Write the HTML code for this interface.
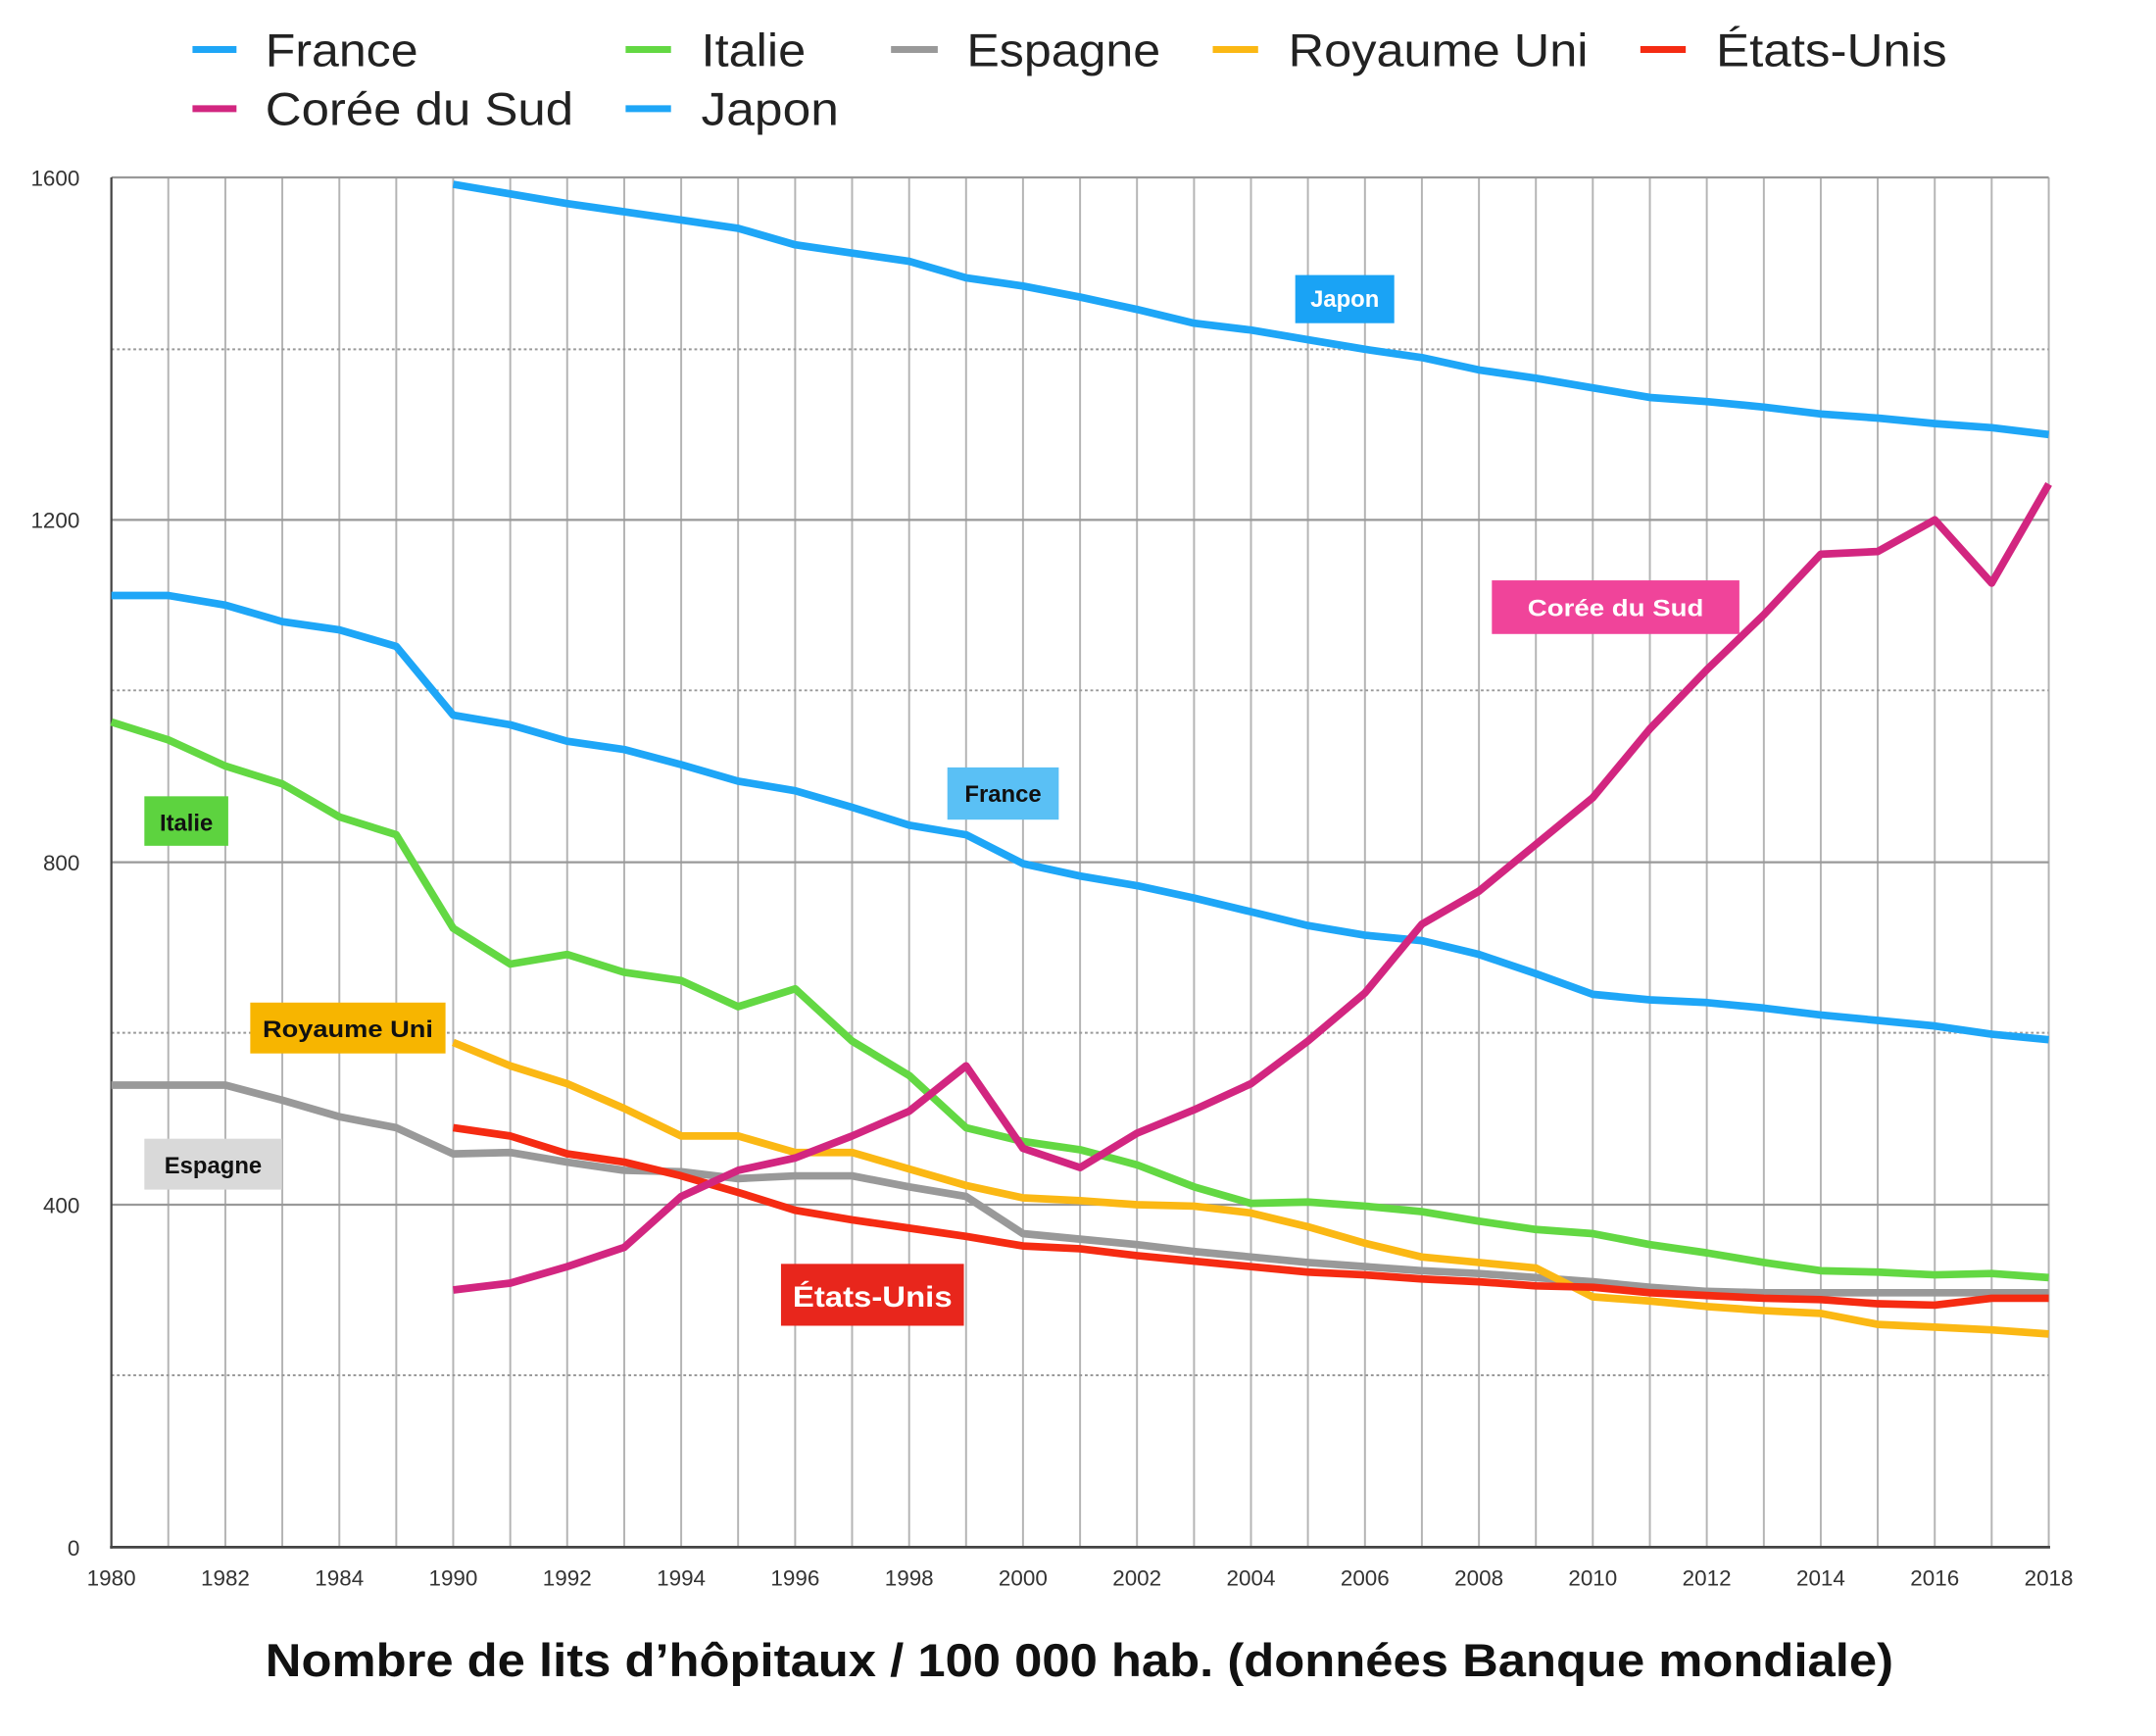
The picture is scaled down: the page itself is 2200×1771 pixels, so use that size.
<!DOCTYPE html>
<html><head><meta charset="utf-8"><style>html,body{margin:0;padding:0;background:#fff}svg{display:block}</style></head>
<body>
<svg width="2200" height="1771" viewBox="0 0 1568 1262.3" preserveAspectRatio="none" xmlns="http://www.w3.org/2000/svg" font-family="Liberation Sans, sans-serif">
<rect width="1568" height="1263" fill="#fff"/>
<g stroke="#b4b4b4" stroke-width="1.4">
<line x1="122.4" y1="129" x2="122.4" y2="1125"/><line x1="163.9" y1="129" x2="163.9" y2="1125"/><line x1="205.3" y1="129" x2="205.3" y2="1125"/><line x1="246.8" y1="129" x2="246.8" y2="1125"/><line x1="288.2" y1="129" x2="288.2" y2="1125"/><line x1="329.6" y1="129" x2="329.6" y2="1125"/><line x1="371.1" y1="129" x2="371.1" y2="1125"/><line x1="412.5" y1="129" x2="412.5" y2="1125"/><line x1="454" y1="129" x2="454" y2="1125"/><line x1="495.4" y1="129" x2="495.4" y2="1125"/><line x1="536.8" y1="129" x2="536.8" y2="1125"/><line x1="578.3" y1="129" x2="578.3" y2="1125"/><line x1="619.7" y1="129" x2="619.7" y2="1125"/><line x1="661.2" y1="129" x2="661.2" y2="1125"/><line x1="702.6" y1="129" x2="702.6" y2="1125"/><line x1="744" y1="129" x2="744" y2="1125"/><line x1="785.5" y1="129" x2="785.5" y2="1125"/><line x1="826.9" y1="129" x2="826.9" y2="1125"/><line x1="868.4" y1="129" x2="868.4" y2="1125"/><line x1="909.8" y1="129" x2="909.8" y2="1125"/><line x1="951.2" y1="129" x2="951.2" y2="1125"/><line x1="992.7" y1="129" x2="992.7" y2="1125"/><line x1="1034.1" y1="129" x2="1034.1" y2="1125"/><line x1="1075.6" y1="129" x2="1075.6" y2="1125"/><line x1="1117" y1="129" x2="1117" y2="1125"/><line x1="1158.4" y1="129" x2="1158.4" y2="1125"/><line x1="1199.9" y1="129" x2="1199.9" y2="1125"/><line x1="1241.3" y1="129" x2="1241.3" y2="1125"/><line x1="1282.8" y1="129" x2="1282.8" y2="1125"/><line x1="1324.2" y1="129" x2="1324.2" y2="1125"/><line x1="1365.6" y1="129" x2="1365.6" y2="1125"/><line x1="1407.1" y1="129" x2="1407.1" y2="1125"/><line x1="1448.5" y1="129" x2="1448.5" y2="1125"/><line x1="1490" y1="129" x2="1490" y2="1125"/>
</g>
<g stroke="#999" stroke-width="1.6">
<line x1="81" y1="129" x2="1490" y2="129"/><line x1="81" y1="378" x2="1490" y2="378"/><line x1="81" y1="627" x2="1490" y2="627"/><line x1="81" y1="876" x2="1490" y2="876"/>
</g>
<g stroke="#999" stroke-width="1.4" stroke-dasharray="2,2">
<line x1="81" y1="254" x2="1490" y2="254"/><line x1="81" y1="502" x2="1490" y2="502"/><line x1="81" y1="751" x2="1490" y2="751"/><line x1="81" y1="1000" x2="1490" y2="1000"/>
</g>
<line x1="81" y1="129" x2="81" y2="1126" stroke="#444" stroke-width="1.6"/>
<line x1="80" y1="1125" x2="1491" y2="1125" stroke="#444" stroke-width="2"/>
<g font-size="16" fill="#333" text-anchor="end">
<text x="58" y="135">1600</text><text x="58" y="384">1200</text><text x="58" y="633">800</text><text x="58" y="882">400</text><text x="58" y="1131">0</text>
</g>
<g font-size="16" fill="#333" text-anchor="middle">
<text x="81" y="1153">1980</text><text x="163.9" y="1153">1982</text><text x="246.8" y="1153">1984</text><text x="329.6" y="1153">1990</text><text x="412.5" y="1153">1992</text><text x="495.4" y="1153">1994</text><text x="578.3" y="1153">1996</text><text x="661.2" y="1153">1998</text><text x="744" y="1153">2000</text><text x="826.9" y="1153">2002</text><text x="909.8" y="1153">2004</text><text x="992.7" y="1153">2006</text><text x="1075.6" y="1153">2008</text><text x="1158.4" y="1153">2010</text><text x="1241.3" y="1153">2012</text><text x="1324.2" y="1153">2014</text><text x="1407.1" y="1153">2016</text><text x="1490" y="1153">2018</text>
</g>
<g fill="none" stroke-width="5.5" stroke-linejoin="round" stroke-linecap="butt">
<polyline stroke="#1ea6f7" points="329.6,134 371.1,141 412.5,148 454,154 495.4,160 536.8,166 578.3,178 619.7,184 661.2,190 702.6,202 744,208 785.5,216 826.9,225 868.4,235 909.8,240 951.2,247 992.7,254 1034.1,260 1075.6,269 1117,275 1158.4,282 1199.9,289 1241.3,292 1282.8,296 1324.2,301 1365.6,304 1407.1,308 1448.5,311 1490,316"/>
<polyline stroke="#1ea6f7" points="81,433 122.4,433 163.9,440 205.3,452 246.8,458 288.2,470 329.6,520 371.1,527 412.5,539 454,545 495.4,556 536.8,568 578.3,575 619.7,587 661.2,600 702.6,607 744,628 785.5,637 826.9,644 868.4,653 909.8,663 951.2,673 992.7,680 1034.1,684 1075.6,694 1117,708 1158.4,723 1199.9,727 1241.3,729 1282.8,733 1324.2,738 1365.6,742 1407.1,746 1448.5,752 1490,756"/>
<polyline stroke="#63d843" points="81,525 122.4,538 163.9,557 205.3,570 246.8,594 288.2,607 329.6,675 371.1,701 412.5,694 454,707 495.4,713 536.8,732 578.3,719 619.7,757 661.2,782 702.6,820 744,830 785.5,836 826.9,847 868.4,863 909.8,875 951.2,874 992.7,877 1034.1,881 1075.6,888 1117,894 1158.4,897 1199.9,905 1241.3,911 1282.8,918 1324.2,924 1365.6,925 1407.1,927 1448.5,926 1490,929"/>
<polyline stroke="#999" points="81,789 122.4,789 163.9,789 205.3,800 246.8,812 288.2,820 329.6,839 371.1,838 412.5,845 454,851 495.4,852 536.8,857 578.3,855 619.7,855 661.2,863 702.6,870 744,897 785.5,901 826.9,905 868.4,910 909.8,914 951.2,918 992.7,921 1034.1,924 1075.6,926 1117,929 1158.4,932 1199.9,936 1241.3,939 1282.8,940 1324.2,940 1365.6,940 1407.1,940 1448.5,940 1490,940"/>
<polyline stroke="#fbb814" points="329.6,758 371.1,775 412.5,788 454,806 495.4,826 536.8,826 578.3,838 619.7,838 661.2,850 702.6,862 744,871 785.5,873 826.9,876 868.4,877 909.8,882 951.2,892 992.7,904 1034.1,914 1075.6,918 1117,922 1158.4,943 1199.9,946 1241.3,950 1282.8,953 1324.2,955 1365.6,963 1407.1,965 1448.5,967 1490,970"/>
<polyline stroke="#f52b12" points="329.6,820 371.1,826 412.5,839 454,845 495.4,855 536.8,867 578.3,880 619.7,887 661.2,893 702.6,899 744,906 785.5,908 826.9,913 868.4,917 909.8,921 951.2,925 992.7,927 1034.1,930 1075.6,932 1117,935 1158.4,936 1199.9,940 1241.3,942 1282.8,944 1324.2,945 1365.6,948 1407.1,949 1448.5,944 1490,944"/>
<polyline stroke="#d22680" points="329.6,938 371.1,933 412.5,921 454,907 495.4,870 536.8,851 578.3,842 619.7,826 661.2,808 702.6,775 744,835 785.5,849 826.9,824 868.4,807 909.8,788 951.2,757 992.7,722 1034.1,672 1075.6,648 1117,614 1158.4,580 1199.9,530 1241.3,487 1282.8,447 1324.2,403 1365.6,401 1407.1,378 1448.5,424 1490,352"/>
</g>
<g font-size="17" font-weight="bold" text-anchor="middle">
<rect x="942" y="200" width="72" height="35" fill="#1aa3f5"/><text x="978" y="223" fill="#fff">Japon</text>
<rect x="1085" y="422" width="180" height="39" fill="#f0449a"/><text x="1175" y="448" fill="#fff" textLength="128" lengthAdjust="spacingAndGlyphs">Corée du Sud</text>
<rect x="689" y="558" width="81" height="38" fill="#5ac0f5"/><text x="729.5" y="583" fill="#111">France</text>
<rect x="105" y="579" width="61" height="36" fill="#5dd33f"/><text x="135.5" y="604" fill="#111">Italie</text>
<rect x="182" y="729" width="142" height="37" fill="#f7b500"/><text x="253" y="754" fill="#111" textLength="124" lengthAdjust="spacingAndGlyphs">Royaume Uni</text>
<rect x="105" y="828" width="100" height="37" fill="#d9d9d9"/><text x="155" y="853" fill="#111">Espagne</text>
<rect x="568" y="919" width="133" height="45" fill="#e8261c"/><text x="634.5" y="950" fill="#fff" font-size="21" textLength="116" lengthAdjust="spacingAndGlyphs">États-Unis</text>
</g>
<g stroke-width="5">
<line x1="140" y1="36" x2="172" y2="36" stroke="#1ea6f7"/>
<line x1="455" y1="36" x2="488" y2="36" stroke="#63d843"/>
<line x1="648" y1="36" x2="682" y2="36" stroke="#999"/>
<line x1="882" y1="36" x2="915" y2="36" stroke="#fbb814"/>
<line x1="1193" y1="36" x2="1226" y2="36" stroke="#f52b12"/>
<line x1="140" y1="79" x2="172" y2="79" stroke="#d22680"/>
<line x1="455" y1="79" x2="488" y2="79" stroke="#1ea6f7"/>
</g>
<g font-size="34" fill="#222" lengthAdjust="spacingAndGlyphs">
<text x="193" y="48" textLength="111" lengthAdjust="spacingAndGlyphs">France</text><text x="510" y="48" textLength="76" lengthAdjust="spacingAndGlyphs">Italie</text><text x="703" y="48" textLength="141" lengthAdjust="spacingAndGlyphs">Espagne</text><text x="937" y="48" textLength="218" lengthAdjust="spacingAndGlyphs">Royaume Uni</text><text x="1248" y="48" textLength="168" lengthAdjust="spacingAndGlyphs">États-Unis</text>
<text x="193" y="91" textLength="224" lengthAdjust="spacingAndGlyphs">Corée du Sud</text><text x="510" y="91" textLength="100" lengthAdjust="spacingAndGlyphs">Japon</text>
</g>
<text x="193" y="1219" font-size="34" font-weight="bold" fill="#111" textLength="1184" lengthAdjust="spacingAndGlyphs">Nombre de lits d’hôpitaux / 100 000 hab. (données Banque mondiale)</text>
</svg>
</body></html>
